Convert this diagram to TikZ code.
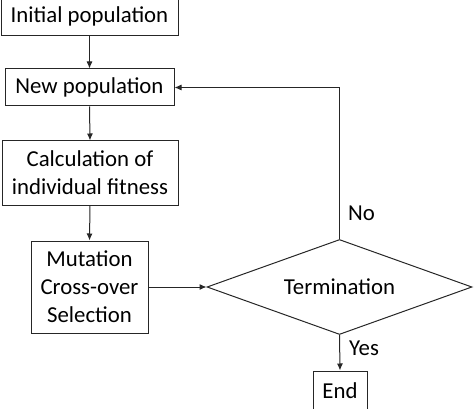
\documentclass[tikz,border=0pt]{standalone}
\usepackage{fontspec}
\setmainfont{Carlito}
\usetikzlibrary{shapes.geometric,arrows.meta}
\begin{document}
\begin{tikzpicture}[x=1pt,y=-1pt,
  box/.style={draw=black!85,line width=1pt,inner sep=0pt,align=center,font=\fontsize{22.8}{28}\selectfont},
  arr/.style={draw=black!85,line width=1pt,-{Latex[length=7pt,width=6pt]}},
  lbl/.style={inner sep=0pt,anchor=west,font=\fontsize{22.8}{28}\selectfont}]
\useasboundingbox (0,0) rectangle (474,409);
\clip (0,0) rectangle (474,409);
\node[box,minimum width=177pt,minimum height=40pt] (init) at (89.5,16) {Initial population};
\node[box,minimum width=169pt,minimum height=37pt] (newpop) at (89.5,87.5) {New population};
\node[box,minimum width=176pt,minimum height=64pt] (calc) at (90,173) {Calculation of\\individual fitness};
\node[box,minimum width=117pt,minimum height=92pt] (mut) at (89.5,287) {Mutation\\Cross-over\\Selection};
\node[box,shape=diamond,aspect=2.8,minimum width=265pt,minimum height=95pt] (term) at (339.5,287) {Termination};
\node[box,minimum width=54pt,minimum height=40pt] (end) at (340,391) {End};
\draw[arr] (init.south) -- (newpop.north);
\draw[arr] (newpop.south) -- (calc.north);
\draw[arr] (calc.south) -- (mut.north);
\draw[arr] (mut.east) -- (term.west);
\draw[arr] (term.north) |- (newpop.east);
\draw[arr] (term.south) -- (end.north);
\node[lbl] (no) at (348,213) {No};
\node[lbl] (yes) at (349,348) {Yes};
\end{tikzpicture}
\end{document}
